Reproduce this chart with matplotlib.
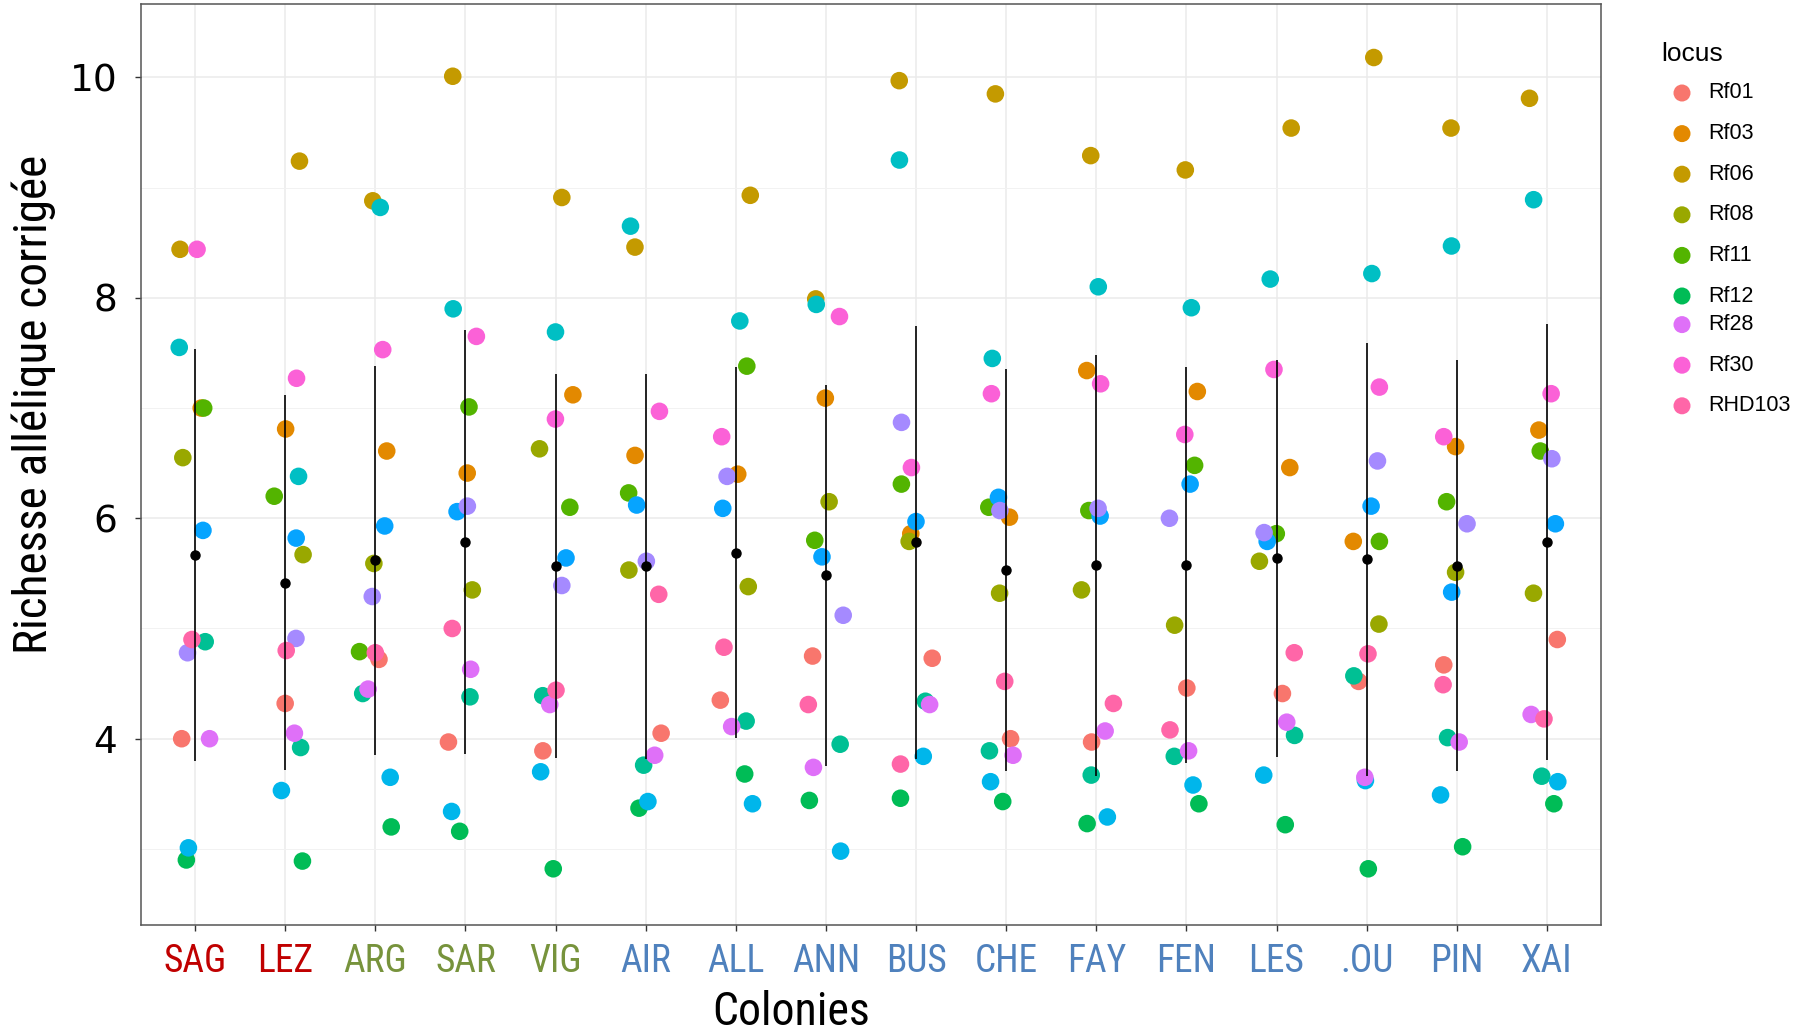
import numpy as np
import matplotlib
matplotlib.use("Agg")
import matplotlib.pyplot as plt
from matplotlib import font_manager

# Colonies (ordre de l'axe x) et couleur de leur étiquette
colonies = ["SAG", "LEZ", "ARG", "SAR", "VIG", "AIR", "ALL", "ANN",
            "BUS", "CHE", "FAY", "FEN", "LES", ".OU", "PIN", "XAI"]
colony_colors = ["#C00000"] * 2 + ["#77933C"] * 3 + ["#4F81BD"] * 11

# Richesse allélique corrigée par locus (une valeur par colonie)
rf01 = [4.00, 4.32, 4.72, 3.97, 3.89, 4.05, 4.35, 4.75, 4.73, 4.00, 3.97, 4.46, 4.41, 4.52, 4.67, 4.90]
rf03 = [7.00, 6.81, 6.61, 6.41, 7.12, 6.57, 6.40, 7.09, 5.86, 6.01, 7.34, 7.15, 6.46, 5.79, 6.65, 6.80]
rf06 = [8.44, 9.24, 8.88, 10.01, 8.91, 8.46, 8.93, 7.99, 9.97, 9.85, 9.29, 9.16, 9.54, 10.18, 9.54, 9.81]
rf08 = [6.55, 5.67, 5.59, 5.35, 6.63, 5.53, 5.38, 6.15, 5.79, 5.32, 5.35, 5.03, 5.61, 5.04, 5.51, 5.32]
rf11 = [7.00, 6.20, 4.79, 7.01, 6.10, 6.23, 7.38, 5.80, 6.31, 6.10, 6.07, 6.48, 5.86, 5.79, 6.15, 6.61]
rf12 = [2.90, 2.89, 3.20, 3.16, 2.82, 3.37, 3.68, 3.44, 3.46, 3.43, 3.23, 3.41, 3.22, 2.82, 3.02, 3.41]
# loci présents dans le graphique mais absents de la légende
locus_07 = [4.88, 3.92, 4.41, 4.38, 4.39, 3.76, 4.16, 3.95, 4.34, 3.89, 3.67, 3.84, 4.03, 4.57, 4.01, 3.66]
locus_08 = [7.55, 6.38, 8.82, 7.90, 7.69, 8.65, 7.79, 7.94, 9.25, 7.45, 8.10, 7.91, 8.17, 8.22, 8.47, 8.89]
locus_09 = [3.01, 3.53, 3.65, 3.34, 3.70, 3.43, 3.41, 2.98, 3.84, 3.61, 3.29, 3.58, 3.67, 3.62, 3.49, 3.61]
locus_10 = [5.89, 5.82, 5.93, 6.06, 5.64, 6.12, 6.09, 5.65, 5.97, 6.19, 6.02, 6.31, 5.79, 6.11, 5.33, 5.95]
locus_11 = [4.78, 4.91, 5.29, 6.11, 5.39, 5.61, 6.38, 5.12, 6.87, 6.07, 6.09, 6.00, 5.87, 6.52, 5.95, 6.54]
rf28 = [4.00, 4.05, 4.45, 4.63, 4.31, 3.85, 4.11, 3.74, 4.31, 3.85, 4.07, 3.89, 4.15, 3.65, 3.97, 4.22]
rf30 = [8.44, 7.27, 7.53, 7.65, 6.90, 6.97, 6.74, 7.83, 6.46, 7.13, 7.22, 6.76, 7.35, 7.19, 6.74, 7.13]
rhd103 = [4.90, 4.80, 4.78, 5.00, 4.44, 5.31, 4.83, 4.31, 3.77, 4.52, 4.32, 4.08, 4.78, 4.77, 4.49, 4.18]

loci = [rf01, rf03, rf06, rf08, rf11, rf12, locus_07, locus_08, locus_09,
        locus_10, locus_11, rf28, rf30, rhd103]
locus_labels = ["Rf01", "Rf03", "Rf06", "Rf08", "Rf11", "Rf12", None, None, None,
                None, None, "Rf28", "Rf30", "RHD103"]
# palette hue de ggplot pour 14 niveaux
locus_colors = ["#F8766D", "#E38900", "#C49A00", "#99A800", "#53B400", "#00BC56", "#00C094",
                "#00BFC4", "#00B6EB", "#06A4FF", "#A58AFF", "#DF70F8", "#FB61D7", "#FF66A8"]

# police étroite si disponible
names = {f.name for f in font_manager.fontManager.ttflist}
narrow, stretch = "DejaVu Sans", "condensed"
for n in ["Liberation Sans Narrow", "Roboto Condensed"]:
    if n in names:
        narrow, stretch = n, "normal"
        break
legend_font = "Liberation Sans" if "Liberation Sans" in names else "DejaVu Sans"

W, H = 1796, 1032
fig = plt.figure(figsize=(W / 100, H / 100), dpi=100)
ax = fig.add_axes([141 / W, 1 - 925 / H, (1601 - 141) / W, (925 - 3.5) / H])

x = np.arange(1, len(colonies) + 1)
rng = np.random.default_rng(11)  # jitter horizontal, comme geom_jitter(width = 0.2)
for vals, col in zip(loci, locus_colors):
    jit = rng.uniform(-0.2, 0.2, size=len(x))
    ax.scatter(x + jit, vals, s=160, color=col, edgecolors="none", zorder=2)

data = np.array(loci)
means = data.mean(axis=0)
sds = data.std(axis=0, ddof=1)
ax.errorbar(x, means, yerr=sds, fmt="o", color="black", ms=6.5, elinewidth=1.2,
            capsize=0, zorder=3)

ax.set_xlim(0.4, 16.6)
ax.set_ylim(2.31, 10.67)
ax.set_yticks([4, 6, 8, 10])
ax.set_yticks([3, 5, 7, 9], minor=True)
ax.set_xticks(x)
ax.set_xticklabels(colonies, fontsize=27, family=narrow, fontstretch=stretch)
for lbl, c in zip(ax.get_xticklabels(), colony_colors):
    lbl.set_color(c)
ax.tick_params(axis="x", length=4, width=1, color="#333333", pad=9)
ax.tick_params(axis="y", which="major", length=4, width=1, color="#333333", pad=13,
               labelsize=27)
ax.tick_params(axis="y", which="minor", length=0)

ax.grid(True, which="major", color="#EBEBEB", lw=1.1, zorder=0)
ax.grid(True, which="minor", axis="y", color="#F2F2F2", lw=0.7, zorder=0)
ax.set_axisbelow(True)
for sp in ax.spines.values():
    sp.set_color("#555555")
    sp.set_linewidth(1.1)

fig.text(34 / W, 1 - 404 / H, "Richesse allélique corrigée", rotation=90,
         ha="center", va="center", fontsize=34, family=narrow, fontstretch=stretch)
fig.text(791 / W, 1 - 1012 / H, "Colonies", ha="center", va="center",
         fontsize=33, family=narrow, fontstretch=stretch)

# légende (recadrée comme dans l'original : seules certaines entrées visibles)
lax = fig.add_axes([0, 0, 1, 1])
lax.set_xlim(0, W)
lax.set_ylim(H, 0)
lax.axis("off")
lax.text(1661, 54, "locus", ha="left", va="center", fontsize=19, family=legend_font)
shown = [(lab, c) for lab, c in zip(locus_labels, locus_colors) if lab is not None]
for i, (lab, c) in enumerate(shown):
    yy = 93 + 40.6 * i - (12 if i >= 6 else 0)
    lax.scatter([1682], [yy], s=150, color=c, edgecolors="none")
    lax.text(1708, yy, lab, ha="left", va="center", fontsize=15.5, family=legend_font)

fig.savefig("out.png", dpi=100)
